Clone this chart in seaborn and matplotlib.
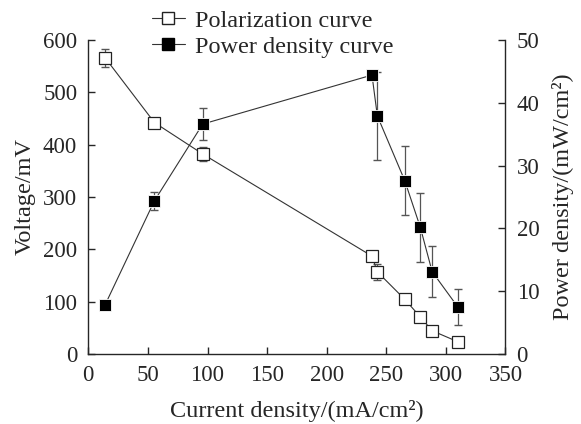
import matplotlib
matplotlib.use("Agg")
import matplotlib.pyplot as plt
from matplotlib.lines import Line2D
import seaborn as sns
import pandas as pd

# values
current = [14, 55.5, 96, 238, 242.5, 265.5, 278.5, 288.5, 310]
voltage = [566, 442, 382, 187, 157, 104.5, 71, 44.5, 23.5]
voltage_err = [17, 5, 13, 5, 15, 4, 4, 5, 9]
power = [7.8, 24.4, 36.6, 44.4, 37.9, 27.6, 20.2, 13.1, 7.5]
power_err = [0.5, 1.4, 2.6, 0.5, 7.0, 5.5, 5.5, 4.1, 2.8]

df = pd.DataFrame({"current": current, "voltage": voltage, "power": power})

sns.set_style("ticks")
plt.rcParams["font.family"] = ["Liberation Serif", "DejaVu Serif"]
plt.rcParams["font.size"] = 16.5
plt.rcParams["xtick.direction"] = "in"
plt.rcParams["ytick.direction"] = "in"

fig, ax = plt.subplots(figsize=(5.81, 4.24), dpi=100)
fig.subplots_adjust(left=0.152, right=0.870, bottom=0.165, top=0.906)
ax2 = ax.twinx()

line_c = "#333333"

# polarization curve (left axis)
ax.errorbar(current, voltage, yerr=voltage_err, fmt="none", ecolor="#555555",
            elinewidth=0.9, capsize=3, zorder=2)
sns.lineplot(data=df, x="current", y="voltage", ax=ax, color=line_c, lw=0.8,
             marker="s", markersize=9, markerfacecolor="white",
             markeredgecolor="#222222", markeredgewidth=0.9, zorder=3)

# power density curve (right axis)
ax2.errorbar(current, power, yerr=power_err, fmt="none", ecolor="#555555",
             elinewidth=0.9, capsize=3, zorder=2)
sns.lineplot(data=df, x="current", y="power", ax=ax2, color=line_c, lw=0.8,
             marker="s", markersize=9, markerfacecolor="black",
             markeredgecolor="white", markeredgewidth=0.6, zorder=3)

ax.set_xlim(0, 350)
ax.set_ylim(0, 600)
ax2.set_ylim(0, 50)
ax.set_xticks(range(0, 351, 50))
ax.set_yticks(range(0, 601, 100))
ax2.set_yticks(range(0, 51, 10))

for a in (ax, ax2):
    a.spines["top"].set_visible(False)
    for s in a.spines.values():
        s.set_linewidth(1.0)
    a.tick_params(length=5, width=1.0, pad=8)
ax.spines["right"].set_visible(False)
ax2.spines["left"].set_visible(False)
ax2.spines["bottom"].set_visible(False)

ax.set_xlabel("Current density/(mA/cm²)", fontsize=17.5, labelpad=10)
ax.set_ylabel("Voltage/mV", fontsize=17.5, labelpad=5)
ax2.set_ylabel("Power density/(mW/cm²)", fontsize=17.5, labelpad=9)

handles = [
    Line2D([], [], color=line_c, lw=0.8, marker="s", markersize=9,
           markerfacecolor="white", markeredgecolor="#222222"),
    Line2D([], [], color=line_c, lw=0.8, marker="s", markersize=9,
           markerfacecolor="black", markeredgecolor="black"),
]
fig.legend(handles, ["Polarization curve", "Power density curve"],
           loc="upper left", bbox_to_anchor=(0.245, 1.0), frameon=False,
           fontsize=17.5, handlelength=1.35, handletextpad=0.4,
           labelspacing=0.17, borderaxespad=0)

plt.savefig("out.png", dpi=100)
